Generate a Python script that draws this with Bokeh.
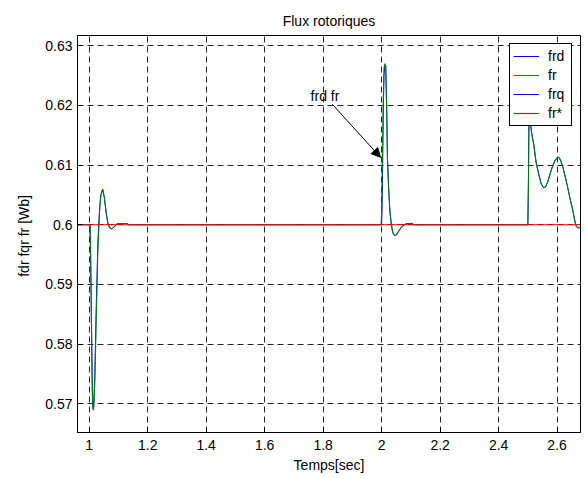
from bokeh.plotting import figure
from bokeh.models import (Range1d, FixedTicker, Legend, LegendItem, Arrow, NormalHead, Label)
from bokeh.embed import file_html
from bokeh.resources import INLINE

# ---------------- data ----------------
t = [0.96, 1.003, 1.005, 1.007, 1.009, 1.011, 1.013, 1.015, 1.017, 1.019, 1.021, 1.023,
     1.025, 1.027, 1.029, 1.032, 1.036, 1.040, 1.046, 1.052, 1.058, 1.064, 1.070, 1.078,
     1.086, 1.094, 1.100, 1.130, 1.135,
     1.998, 2.000, 2.002, 2.004, 2.006, 2.008, 2.011, 2.014, 2.017, 2.020, 2.024, 2.028,
     2.032, 2.036, 2.040, 2.044, 2.048, 2.054, 2.062, 2.070, 2.078, 2.086, 2.090, 2.105, 2.110,
     2.498, 2.500, 2.502, 2.504, 2.506, 2.508, 2.510, 2.514, 2.520, 2.528, 2.537, 2.546,
     2.554, 2.560, 2.568, 2.576, 2.583, 2.592, 2.600, 2.606, 2.612, 2.620, 2.628, 2.636,
     2.645, 2.652, 2.658, 2.662, 2.666, 2.672, 2.68]

frd = [0.6, 0.6, 0.594, 0.586, 0.578, 0.571, 0.5692, 0.5693, 0.5720, 0.5745, 0.5790, 0.5838,
       0.5880, 0.5917, 0.5960, 0.5995, 0.6030, 0.6050, 0.6059, 0.6045, 0.6020, 0.6002, 0.5995, 0.5993,
       0.5997, 0.6001, 0.6002, 0.6002, 0.6,
       0.6, 0.6, 0.6040, 0.6120, 0.6200, 0.6250, 0.6268, 0.6266, 0.6200, 0.6110, 0.6060, 0.6025,
       0.6005, 0.5992, 0.5985, 0.5982, 0.5982, 0.5986, 0.5992, 0.5997, 0.6000, 0.6002, 0.6002, 0.6002, 0.6,
       0.6, 0.6, 0.6080, 0.6200, 0.6235, 0.6200, 0.6165, 0.6150, 0.6135, 0.6105, 0.6085, 0.6068,
       0.6062, 0.6063, 0.6072, 0.6085, 0.6096, 0.6107, 0.6112, 0.6113, 0.6108, 0.6096, 0.6080, 0.6063,
       0.6042, 0.6028, 0.6013, 0.6003, 0.5997, 0.5995, 0.5995]

fr = [0.6, 0.6, 0.595, 0.587, 0.579, 0.572, 0.5690, 0.5690, 0.5705, 0.5732, 0.5772, 0.5818,
      0.5862, 0.5900, 0.5945, 0.5985, 0.6027, 0.6050, 0.6060, 0.6046, 0.6021, 0.6002, 0.5995, 0.5993,
      0.5997, 0.6001, 0.6002, 0.6002, 0.6,
      0.6, 0.6020, 0.6100, 0.6160, 0.6220, 0.6262, 0.6270, 0.6266, 0.6200, 0.6110, 0.6060, 0.6025,
      0.6005, 0.5992, 0.5985, 0.5982, 0.5982, 0.5986, 0.5992, 0.5997, 0.6000, 0.6002, 0.6002, 0.6002, 0.6,
      0.6, 0.6, 0.6060, 0.6190, 0.6235, 0.6200, 0.6165, 0.6150, 0.6135, 0.6105, 0.6085, 0.6068,
      0.6062, 0.6063, 0.6072, 0.6085, 0.6096, 0.6107, 0.6112, 0.6113, 0.6108, 0.6096, 0.6080, 0.6063,
      0.6042, 0.6028, 0.6013, 0.6003, 0.5997, 0.5995, 0.5995]

frq = [0.0 for _ in t]          # quadrature flux, ~0 (outside the visible range)
fr_ref = [0.6 for _ in t]       # flux reference fr*

x_ticks = [1.0, 1.2, 1.4, 1.6, 1.8, 2.0, 2.2, 2.4, 2.6]
x_tick_labels = ["1", "1.2", "1.4", "1.6", "1.8", "2", "2.2", "2.4", "2.6"]
y_ticks = [0.57, 0.58, 0.59, 0.60, 0.61, 0.62, 0.63]
y_tick_labels = ["0.57", "0.58", "0.59", "0.6", "0.61", "0.62", "0.63"]

annot_text = "frd fr"
annot_text_pos = (1.757, 0.6216)
arrow_start = (1.831, 0.6202)
arrow_end = (1.996, 0.6113)

FONT = "Liberation Sans"
FS = "14px"

# ---------------- figure ----------------
p = figure(width=584, height=476, output_backend="svg", toolbar_location=None,
           x_range=Range1d(0.96, 2.68), y_range=Range1d(0.5652, 0.6317),
           min_border_left=77, min_border_right=4, min_border_top=35, min_border_bottom=44,
           title="Flux rotoriques")

p.title.text_font = FONT
p.title.text_font_size = FS
p.title.text_font_style = "normal"
p.title.align = "center"
p.title.text_color = "black"
p.title.standoff = 14

p.outline_line_color = "black"
p.outline_line_width = 1
p.outline_line_alpha = 1
p.background_fill_color = "white"
p.border_fill_color = "white"

xb = p.xaxis[0]
yl = p.yaxis[0]
for ax in (xb, yl):
    ax.major_label_text_font = FONT
    ax.major_label_text_font_size = FS
    ax.major_label_text_color = "black"
    ax.axis_label_text_font = FONT
    ax.axis_label_text_font_size = FS
    ax.axis_label_text_font_style = "normal"
    ax.axis_label_text_color = "black"
    ax.axis_line_color = "black"
    ax.major_tick_line_color = "black"
    ax.major_tick_in = 5
    ax.major_tick_out = 0
    ax.minor_tick_line_color = None

xb.ticker = FixedTicker(ticks=x_ticks)
yl.ticker = FixedTicker(ticks=y_ticks)
xb.major_label_overrides = dict(zip(x_ticks, x_tick_labels))
yl.major_label_overrides = dict(zip(y_ticks, y_tick_labels))
xb.axis_label = "Temps[sec]"
yl.axis_label = "fdr fqr  fr [Wb]"
xb.major_label_standoff = 7
xb.axis_label_standoff = 4
yl.major_label_standoff = 5
yl.axis_label_standoff = 10

p.xgrid.ticker = FixedTicker(ticks=x_ticks)
p.ygrid.ticker = FixedTicker(ticks=y_ticks)
for g in (p.xgrid[0], p.ygrid[0]):
    g.grid_line_color = "black"
    g.grid_line_dash = "6 4"
    g.grid_line_width = 1
    g.grid_line_alpha = 0.85

# ---------------- series ----------------
r_frd = p.line(t, frd, line_color="#0000ff", line_width=1)
r_fr = p.line(t, fr, line_color="#008000", line_width=1.1, line_alpha=0.9)
r_frq = p.line(t, frq, line_color="#0000ff", line_width=1)
r_ref = p.line(t, fr_ref, line_color="#ff0000", line_width=1.2)

legend = Legend(items=[LegendItem(label="frd", renderers=[r_frd]),
                       LegendItem(label="fr", renderers=[r_fr]),
                       LegendItem(label="frq", renderers=[r_frq]),
                       LegendItem(label="fr*", renderers=[r_ref])],
                location="top_right")
legend.label_text_font = FONT
legend.label_text_font_size = FS
legend.label_text_color = "black"
legend.border_line_color = "black"
legend.border_line_width = 1
legend.border_line_alpha = 1
legend.background_fill_color = "white"
legend.background_fill_alpha = 1
legend.margin = 8
legend.padding = 3
legend.spacing = 1
legend.glyph_width = 26
legend.glyph_height = 18
legend.label_height = 18
legend.label_standoff = 9
legend.label_width = 20
p.add_layout(legend, "center")

# ---------------- annotation ----------------
p.add_layout(Arrow(end=NormalHead(size=9, fill_color="black", line_color="black", line_width=1),
                   x_start=arrow_start[0], y_start=arrow_start[1],
                   x_end=arrow_end[0], y_end=arrow_end[1],
                   line_color="black", line_width=1))
p.add_layout(Label(x=annot_text_pos[0], y=annot_text_pos[1], text=annot_text,
                   text_font=FONT, text_font_size=FS, text_color="black",
                   text_baseline="middle", text_align="left"))

open("out.html", "w").write(file_html(p, INLINE))
